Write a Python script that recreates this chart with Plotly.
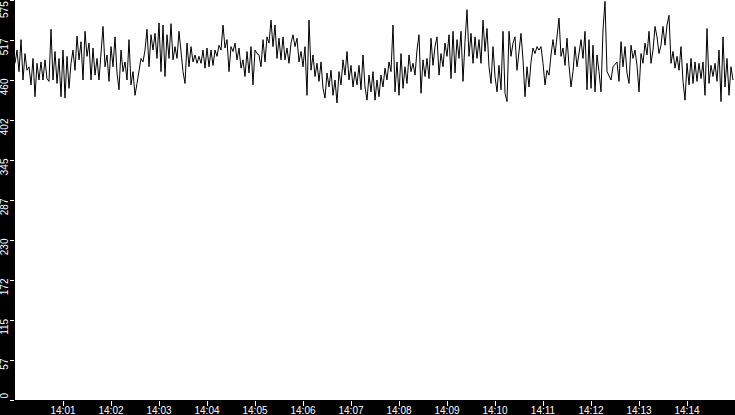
import pandas as pd
import plotly.graph_objects as go

# Series values (one sample every 2.5 s, 14:00:00 - 14:15:00)
seg1 = [484, 503, 472, 518, 460, 498, 474, 479, 453, 491, 436, 484, 460, 486, 460, 489, 462, 458, 533, 460,
        501, 455, 491, 436, 503, 434, 494, 448, 484, 503, 474, 523, 489, 515, 460, 530, 494, 513, 460, 506,
        467, 491, 460, 496, 537, 479, 496, 458, 508, 479, 522, 470, 446, 503, 472, 486, 460, 518, 453, 472]
seg2 = [438, 455, 477, 491, 486, 503, 533, 479, 525, 503, 527, 491, 542, 472, 539, 465, 525, 491, 541, 489,
        508, 491, 530, 498, 472, 455, 513, 479, 508, 486, 496, 484, 494, 484, 503, 477, 506, 479, 503, 481,
        503, 494, 510, 503, 539, 506, 518, 472, 508, 501, 513, 489, 506, 477, 489, 465, 501, 470, 508, 453]
seg3 = [503, 498, 496, 479, 518, 486, 522, 513, 546, 508, 539, 491, 520, 489, 522, 489, 506, 484, 513, 525,
        508, 520, 486, 501, 479, 508, 438, 546, 474, 496, 465, 484, 458, 486, 448, 434, 470, 450, 474, 438,
        460, 427, 472, 453, 489, 467, 501, 460, 481, 450, 472, 453, 481, 446, 496, 450, 431, 467, 443, 472]
seg4 = [431, 460, 436, 467, 450, 477, 460, 486, 472, 539, 443, 486, 438, 498, 448, 479, 455, 496, 472, 484,
        467, 503, 525, 441, 489, 465, 491, 462, 520, 481, 508, 522, 467, 498, 479, 513, 494, 525, 462, 530,
        470, 518, 491, 530, 458, 515, 561, 494, 527, 484, 522, 491, 518, 484, 546, 501, 534, 479, 455, 508]
seg5 = [465, 443, 481, 446, 530, 441, 429, 530, 494, 513, 522, 474, 501, 527, 489, 436, 479, 450, 486, 506,
        498, 508, 503, 508, 484, 453, 474, 467, 496, 518, 496, 527, 549, 494, 506, 481, 520, 481, 450, 472,
        508, 479, 498, 518, 491, 530, 446, 518, 448, 510, 443, 496, 472, 443, 532, 573, 472, 467, 460, 479]
seg6 = [482, 486, 458, 515, 479, 508, 470, 455, 510, 491, 503, 481, 443, 498, 484, 513, 496, 530, 484, 503,
        537, 522, 498, 510, 537, 510, 539, 553, 484, 501, 477, 494, 474, 508, 458, 431, 484, 453, 491, 455,
        486, 458, 484, 462, 486, 438, 534, 455, 481, 465, 484, 458, 503, 429, 522, 450, 491, 438, 479, 460]
values = seg1 + seg2 + seg3 + seg4 + seg5 + seg6

start_time = "2024-01-01 14:00:00"
end_time = "2024-01-01 14:15:00"
sample_step = "2500ms"

x_tick_labels = ["14:01", "14:02", "14:03", "14:04", "14:05", "14:06", "14:07",
                 "14:08", "14:09", "14:10", "14:11", "14:12", "14:13", "14:14"]
y_tick_values = [0, 57.5, 115, 172.5, 230, 287.5, 345, 402.5, 460, 517.5, 575]
y_tick_labels = ["0", "57", "115", "172", "230", "287", "345", "402", "460", "517", "575"]

times = pd.date_range(start=start_time, periods=len(values), freq=sample_step)
x_tick_vals = [pd.Timestamp("2024-01-01 " + t + ":00") for t in x_tick_labels]

# figure spaces shift rotated labels so they run downward from their tick
FS = "\u2007"
y_tick_text = []
for t in y_tick_labels:
    if t == "0":
        y_tick_text.append(FS + t)
    elif t == y_tick_labels[-1]:
        y_tick_text.append(t + FS * (len(t) + 1))
    else:
        y_tick_text.append(t + FS * len(t))

fig = go.Figure()
fig.add_trace(go.Scatter(x=times, y=values, mode="lines",
                         line=dict(color="black", width=1), hoverinfo="skip"))

xfont = dict(family="Liberation Sans", size=10, color="white")
yfont = dict(family="Liberation Sans", size=10, color="white")
fig.update_layout(
    width=735, height=415,
    margin=dict(l=15, r=0, t=0, b=15, pad=0),
    paper_bgcolor="black", plot_bgcolor="white",
    showlegend=False,
    xaxis=dict(range=[start_time, end_time], tickvals=x_tick_vals, ticktext=x_tick_labels,
               showgrid=False, zeroline=False, showline=False,
               ticks="outside", ticklen=5, tickcolor="white", tickwidth=1,
               ticklabelstandoff=-4, ticklabeloverflow="allow",
               tickfont=xfont, automargin=False, fixedrange=True),
    yaxis=dict(range=[0, 575], tickvals=y_tick_values, ticktext=y_tick_text,
               showgrid=False, zeroline=False, showline=False,
               ticks="outside", ticklen=4, tickcolor="white", tickwidth=1,
               ticklabelstandoff=-2, ticklabeloverflow="allow",
               tickangle=-90, tickfont=yfont, automargin=False, fixedrange=True),
)

fig.write_html("out.html", config={"displayModeBar": False},
               post_script="document.body.style.margin='0';document.body.style.overflow='hidden';")
